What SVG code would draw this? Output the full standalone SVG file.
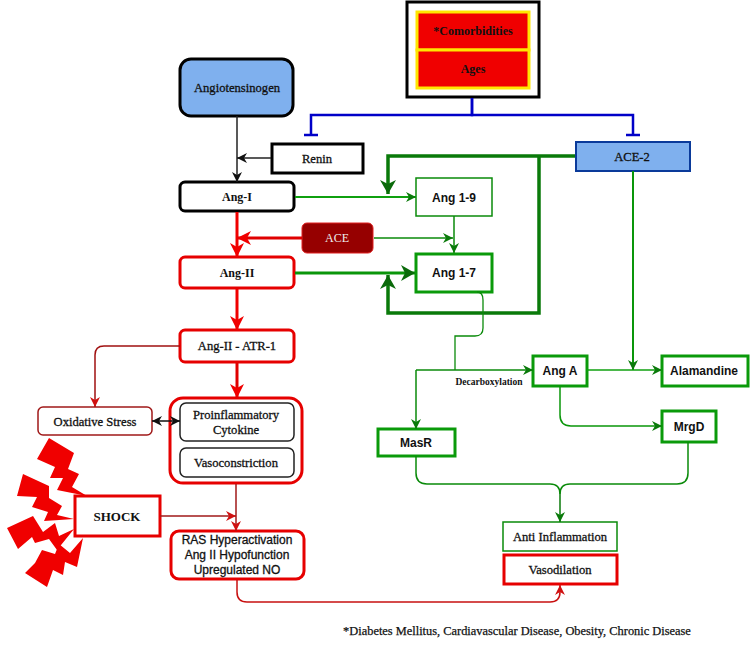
<svg xmlns="http://www.w3.org/2000/svg" width="750" height="647" viewBox="0 0 750 647">
<style>
text{font-family:"Liberation Serif","Times New Roman",serif;font-size:12px;font-weight:bold;fill:#111;text-anchor:middle}
text.m{font-weight:normal;font-size:12.6px;stroke:#111;stroke-width:.3}
text.sans{font-family:"Liberation Sans",Arial,sans-serif;font-size:12px}
text.ras{font-family:"Liberation Sans",Arial,sans-serif;font-size:12px;font-weight:normal;stroke:#111;stroke-width:.3}
.b{fill:#fff;stroke:#000;stroke-width:3}
.r{fill:#fff;stroke:#e60000;stroke-width:3}
.g{fill:#fff;stroke:#0a9a0a;stroke-width:3}
.bolt{fill:#f00000;stroke:none}
</style>
<defs>
<marker id="ab" markerUnits="userSpaceOnUse" markerWidth="12" markerHeight="12" refX="10" refY="6" orient="auto"><path d="M0,1L10,6L0,11L3,6Z" fill="#111"/></marker>
<marker id="abs" markerUnits="userSpaceOnUse" markerWidth="12" markerHeight="12" refX="0" refY="6" orient="auto"><path d="M10,1L0,6L10,11L7,6Z" fill="#111"/></marker>
<marker id="ar" markerUnits="userSpaceOnUse" markerWidth="16" markerHeight="16" refX="14" refY="8" orient="auto"><path d="M0,1L14,8L0,15L4,8Z" fill="#f00000"/></marker>
<marker id="ad" markerUnits="userSpaceOnUse" markerWidth="12" markerHeight="12" refX="10" refY="6" orient="auto"><path d="M0,1L10,6L0,11L3,6Z" fill="#d01010"/></marker>
<marker id="ag" markerUnits="userSpaceOnUse" markerWidth="12" markerHeight="12" refX="10" refY="6" orient="auto"><path d="M0,1L10,6L0,11L3,6Z" fill="#0a7a0a"/></marker>
<marker id="agl" markerUnits="userSpaceOnUse" markerWidth="16" markerHeight="18" refX="14" refY="9" orient="auto"><path d="M0,1L14,9L0,17L4,9Z" fill="#0a6a0a"/></marker>
<marker id="tb" markerUnits="userSpaceOnUse" markerWidth="4" markerHeight="14" refX="2" refY="7" orient="auto"><path d="M2,0V14" stroke="#0000c8" stroke-width="2.5"/></marker>
</defs>

<g id="comorbidities">
<rect x="407" y="2" width="132" height="95" fill="#fff" stroke="#000" stroke-width="3"/>
<rect x="417" y="12" width="112" height="38" fill="#f00000" stroke="#ffe600" stroke-width="3"/>
<rect x="417" y="50" width="112" height="38" fill="#f00000" stroke="#ffe600" stroke-width="3"/>
<text x="473" y="35">*Comorbidities</text>
<text x="473" y="73">Ages</text>
</g>
<g id="angiotensinogen"><rect x="180" y="59" width="113" height="57" rx="11" fill="#7fb0ee" stroke="#000" stroke-width="3"/><text class="m" x="237" y="92">Angiotensinogen</text></g>
<g id="renin"><rect class="b" x="272" y="144" width="91" height="29"/><text class="m" x="317" y="163">Renin</text></g>
<g id="ang-i"><rect class="b" x="180" y="182" width="114" height="29" rx="5"/><text x="237" y="201">Ang-I</text></g>
<g id="ace"><rect x="302" y="223" width="71" height="30" rx="5" fill="#960000" stroke="#e02020" stroke-width="1"/><text x="337" y="242" style="fill:#eee;font-weight:normal">ACE</text></g>
<g id="ang-ii"><rect class="r" x="180" y="257" width="114" height="31" rx="5"/><text x="237" y="277">Ang-II</text></g>
<g id="ang-ii-atr-1"><rect class="r" x="180" y="330" width="114" height="32" rx="5"/><text class="m" x="237" y="350">Ang-II - ATR-1</text></g>
<g id="oxidative-stress"><rect x="38" y="407" width="114" height="28" rx="5" fill="#fff" stroke="#a01818" stroke-width="1.5"/><text class="m" x="95" y="426">Oxidative Stress</text></g>
<g id="response-group"><rect class="r" x="170" y="398" width="132" height="85" rx="13"/>
<rect x="180" y="403" width="114" height="38" rx="6" fill="#fff" stroke="#222" stroke-width="1.5"/><text class="m" x="236" y="419">Proinflammatory</text><text class="m" x="236" y="434">Cytokine</text>
<rect x="180" y="448" width="114" height="29" rx="6" fill="#fff" stroke="#222" stroke-width="1.5"/><text class="m" x="236" y="467">Vasoconstriction</text></g>
<g id="shock-bursts">
<polygon class="bolt" points="49,438 74,453 68,469 79,474 72,487 87,496 57,490 63,478 50,478 55,467 37,459"/>
<polygon class="bolt" points="23,474 49,486 49,498 62,506 57,515 74,519 44,521 48,512 32,507 37,497 17,496"/>
<polygon class="bolt" points="7,528 33,516 43,532 55,523 59,536 74,529 57,550 49,539 35,543 32,537 18,549"/>
<polygon class="bolt" points="42,550 55,554 59,544 70,553 83,538 77,567 65,562 63,575 53,570 47,587 25,573 35,563"/>
</g>
<g id="shock"><rect x="75" y="496" width="85" height="40" fill="#fff" stroke="#e60000" stroke-width="3"/><text x="117" y="521" style="font-size:13px">SHOCK</text></g>
<g id="ras"><rect class="r" x="171" y="531" width="133" height="48" rx="8"/>
<text class="ras" x="237" y="544">RAS Hyperactivation</text>
<text class="ras" x="237" y="559">Ang II Hypofunction</text>
<text class="ras" x="237" y="574">Upregulated NO</text></g>
<g id="ace-2"><rect x="576" y="142" width="114" height="29" fill="#7fb0ee" stroke="#0a3a9a" stroke-width="2"/><text class="m" x="632" y="161">ACE-2</text></g>
<g id="ang-1-9"><rect x="416" y="178" width="76" height="38" fill="#fff" stroke="#0a8a0a" stroke-width="1.5"/><text class="sans" x="454" y="202">Ang 1-9</text></g>
<g id="ang-1-7"><rect class="g" x="416" y="254" width="76" height="38"/><text class="sans" x="454" y="277">Ang 1-7</text></g>
<g id="ang-a"><rect class="g" x="533" y="356" width="54" height="30"/><text class="sans" x="560" y="375">Ang A</text></g>
<g id="alamandine"><rect class="g" x="662" y="356" width="86" height="30"/><text class="sans" x="704" y="375">Alamandine</text></g>
<g id="mrgd"><rect class="g" x="662" y="411" width="54" height="31"/><text class="sans" x="689" y="431">MrgD</text></g>
<g id="masr"><rect class="g" x="378" y="429" width="77" height="27"/><text class="sans" x="416" y="447">MasR</text></g>
<text x="489" y="385" style="font-size:9.5px">Decarboxylation</text>
<g id="anti-inflammation"><rect x="503" y="522" width="114" height="29" fill="#fff" stroke="#0a8a0a" stroke-width="1.5"/><text class="m" x="560" y="541">Anti Inflammation</text></g>
<g id="vasodilation"><rect x="504" y="555" width="113" height="29" fill="#fff" stroke="#e60000" stroke-width="3"/><text class="m" x="560" y="574">Vasodilation</text></g>
<text class="m" x="517" y="635" style="font-size:12.4px;stroke-width:.25">*Diabetes Mellitus, Cardiavascular Disease, Obesity, Chronic Disease</text>

<g id="connectors" fill="none">
<path d="M237,116V182" stroke="#222" stroke-width="1.5" marker-end="url(#ab)"/>
<path d="M271,158H237" stroke="#222" stroke-width="1.5" marker-end="url(#ab)"/>
<path d="M472,98V115H311V135" stroke="#0000c8" stroke-width="2.5" marker-end="url(#tb)"/>
<path d="M472,98V115H633V135" stroke="#0000c8" stroke-width="2.5" marker-end="url(#tb)"/>
<path d="M237,212V257" stroke="#f00000" stroke-width="3" marker-end="url(#ar)"/>
<path d="M237,289V330" stroke="#f00000" stroke-width="3" marker-end="url(#ar)"/>
<path d="M237,363V398" stroke="#e00000" stroke-width="3" marker-end="url(#ar)"/>
<path d="M302,238H237" stroke="#e00000" stroke-width="3" marker-end="url(#ar)"/>
<path d="M295,197H416" stroke="#0fa00f" stroke-width="2" marker-end="url(#ag)"/>
<path d="M374,238H453" stroke="#0a8a0a" stroke-width="1.5" marker-end="url(#ag)"/>
<path d="M454,216V253" stroke="#0a8a0a" stroke-width="1.5" marker-end="url(#ag)"/>
<path d="M295,273H415" stroke="#0a960a" stroke-width="3" marker-end="url(#agl)"/>
<path d="M575,156H388V194" stroke="#0a7a0a" stroke-width="3.5" marker-end="url(#agl)"/>
<path d="M539,156V313H388V275" stroke="#0a7a0a" stroke-width="3.5" marker-end="url(#agl)"/>
<path d="M633,171V370" stroke="#0a960a" stroke-width="2" marker-end="url(#ag)"/>
<path d="M587,370H662" stroke="#0fa00f" stroke-width="1.5" marker-end="url(#ag)"/>
<path d="M477,292Q483,292 483,300V328Q483,336 475,336H455V370" stroke="#0a8a0a" stroke-width="1.3"/>
<path d="M416,370H533" stroke="#0a8a0a" stroke-width="1.5" marker-end="url(#ag)"/>
<path d="M416,370V429" stroke="#0a8a0a" stroke-width="1.5" marker-end="url(#ag)"/>
<path d="M560,386V415Q560,426 571,426H662" stroke="#0a960a" stroke-width="1.5" marker-end="url(#ag)"/>
<path d="M416,456V473Q416,484 427,484H550Q560,484 560,494" stroke="#0a8a0a" stroke-width="1.5"/>
<path d="M688,442V473Q688,484 677,484H570Q560,484 560,494" stroke="#0a8a0a" stroke-width="1.5"/>
<path d="M560,494V522" stroke="#0a7a0a" stroke-width="1.5" marker-end="url(#ag)"/>
<path d="M180,346H104Q95,346 95,355V407" stroke="#a01010" stroke-width="1.5" marker-end="url(#ad)"/>
<path d="M152,421H180" stroke="#111" stroke-width="1.5" marker-start="url(#abs)" marker-end="url(#ab)"/>
<path d="M236,484V531" stroke="#a01818" stroke-width="1.5" marker-end="url(#ad)"/>
<path d="M160,516H236" stroke="#a01818" stroke-width="1.5" marker-end="url(#ad)"/>
<path d="M237,580V592Q237,602 247,602H550Q560,602 560,592V585" stroke="#c81010" stroke-width="1.5" marker-end="url(#ad)"/>
</g>
</svg>
